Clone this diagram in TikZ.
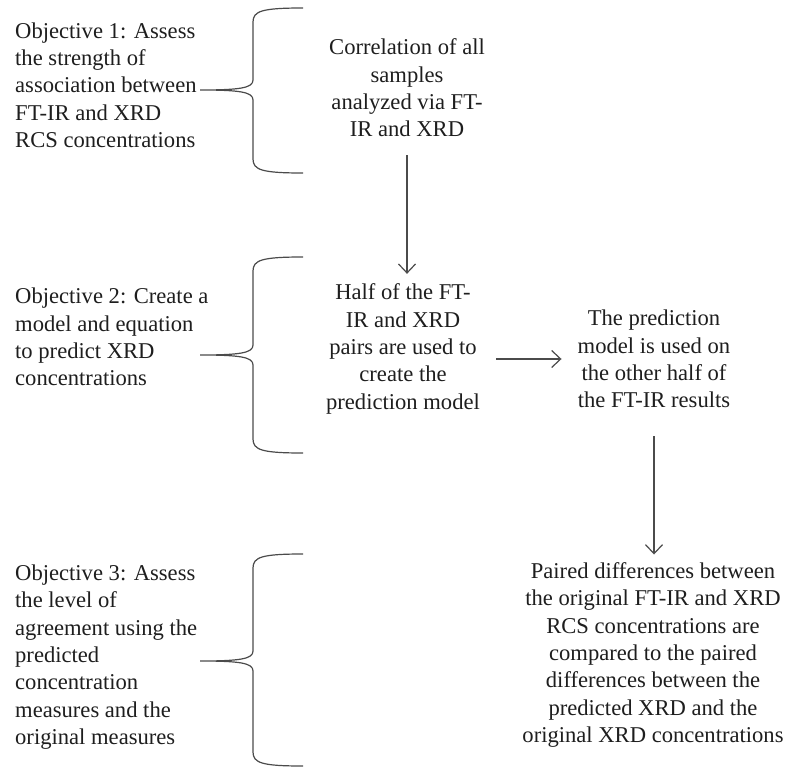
\documentclass[tikz,border=0pt]{standalone}
\usepackage{fontspec}
\setmainfont{Liberation Serif}
\usepackage{tikz}
\usetikzlibrary{arrows.meta}

\definecolor{linegray}{RGB}{75,75,75}
\definecolor{textgray}{RGB}{30,30,30}

\begin{document}
\begin{tikzpicture}[x=1pt, y=-1pt,
    txt/.style={font=\fontsize{22.6}{27.3}\selectfont, text=textgray, inner sep=2pt},
    goal/.style={txt, align=left, anchor=west},
    stage/.style={txt, align=center},
    link/.style={draw=linegray, line width=1.2pt, -{Straight Barb[length=9pt,width=17pt]}},
    curly/.style={draw=linegray, line width=1.2pt}]
    \useasboundingbox (0,0) rectangle (787,768);

    % objectives on the left
    \node[goal] (obj1) at (13,85) {Objective 1: Assess\\the strength of\\association between\\FT-IR and XRD\\RCS concentrations};
    \node[goal] (obj2) at (13,337) {Objective 2: Create a\\model and equation\\to predict XRD\\concentrations};
    \node[goal] (obj3) at (13,657) {Objective 3: Assess\\the level of\\agreement using the\\predicted\\concentration\\measures and the\\original measures};

    % braces
    \draw[curly] (303,8) .. controls (262,8) and (253,11) .. (253,22) -- (253,80) .. controls (253,88) and (240,90) .. (200,90)
        .. controls (240,90) and (253,92) .. (253,100) -- (253,159) .. controls (253,170) and (262,173) .. (303,173);
    \draw[curly] (303,257) .. controls (262,257) and (253,260) .. (253,271) -- (253,345) .. controls (253,353) and (240,355) .. (200,355)
        .. controls (240,355) and (253,357) .. (253,365) -- (253,439) .. controls (253,450) and (262,453) .. (303,453);
    \draw[curly] (303,554) .. controls (262,554) and (253,557) .. (253,568) -- (253,651) .. controls (253,659) and (240,661) .. (200,661)
        .. controls (240,661) and (253,663) .. (253,671) -- (253,752) .. controls (253,763) and (262,766) .. (303,766);

    % steps
    \node[stage] (corr) at (407,88) {Correlation of all\\samples\\analyzed via FT-\\IR and XRD};
    \node[stage] (half) at (403,349) {Half of the FT-\\IR and XRD\\pairs are used to\\create the\\prediction model};
    \node[stage] (pred) at (654,359) {The prediction\\model is used on\\the other half of\\the FT-IR results};
    \node[stage] (paired) at (653,655) {Paired differences between\\the original FT-IR and XRD\\RCS concentrations are\\compared to the paired\\differences between the\\predicted XRD and the\\original XRD concentrations};

    \draw[link, shorten <=16pt, shorten >=8pt] (corr.south) -- (corr.south |- half.north);
    \draw[link, shorten <=14pt, shorten >=14pt] (half.east |- pred.west) -- (pred.west);
    \draw[link, shorten <=26pt, shorten >=6pt] (pred.south) -- (pred.south |- paired.north);
\end{tikzpicture}
\end{document}
